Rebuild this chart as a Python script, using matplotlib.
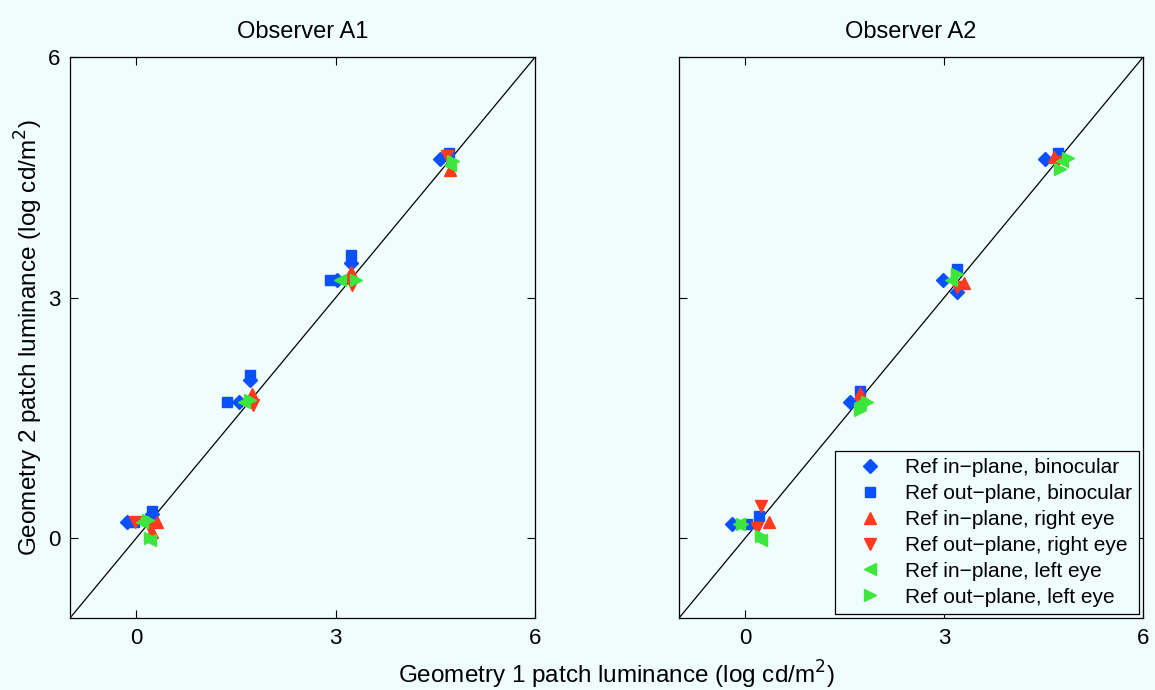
import numpy as np
import matplotlib
matplotlib.use('Agg')
import matplotlib.pyplot as plt

plt.rcParams['font.family'] = ['Liberation Sans', 'DejaVu Sans']

# series labels and marker styles (same order in both panels)
labels = ['Ref in\u2212plane, binocular', 'Ref out\u2212plane, binocular',
          'Ref in\u2212plane, right eye', 'Ref out\u2212plane, right eye',
          'Ref in\u2212plane, left eye', 'Ref out\u2212plane, left eye']
markers = ['D', 's', '^', 'v', '<', '>']
sizes = [7.5, 7, 8, 8, 8, 8]
colors = ['#0a50ff', '#0a50ff', '#ff3a1e', '#ff3a1e', '#3ce63c', '#3ce63c']

# Observer A1: geometry 1 (x) vs geometry 2 (y), log cd/m^2
a1_x = [
    [-0.14, 0.24, 1.54, 1.71, 3.02, 3.23, 4.57],
    [-0.04, 0.24, 1.37, 1.71, 2.92, 3.23, 4.70],
    [0.31, 0.24, 1.74, 3.23, 4.72],
    [-0.02, 0.20, 1.76, 3.25, 4.67],
    [0.08, 0.20, 1.62, 3.07, 4.72],
    [0.18, 0.21, 1.71, 3.30, 4.77],
]
a1_y = [
    [0.20, 0.30, 1.70, 1.97, 3.22, 3.43, 4.73],
    [0.20, 0.34, 1.70, 2.03, 3.22, 3.53, 4.80],
    [0.20, 0.08, 1.80, 3.32, 4.59],
    [0.20, 0.12, 1.66, 3.16, 4.77],
    [0.20, -0.03, 1.70, 3.22, 4.65],
    [0.22, 0.00, 1.72, 3.22, 4.71],
]

# Observer A2
a2_x = [
    [-0.20, 1.58, 2.98, 3.20, 4.52],
    [0.03, 0.20, 1.73, 3.20, 4.72],
    [0.35, 1.73, 3.30, 4.65],
    [0.23, 0.18, 1.76, 3.20, 4.70],
    [-0.10, 0.23, 1.73, 3.10, 4.78],
    [-0.05, 0.23, 1.84, 1.73, 3.20, 4.87, 4.75],
]
a2_y = [
    [0.18, 1.70, 3.22, 3.07, 4.73],
    [0.18, 0.27, 1.84, 3.36, 4.80],
    [0.20, 1.81, 3.18, 4.76],
    [0.40, 0.12, 1.66, 3.13, 4.69],
    [0.18, -0.03, 1.68, 3.22, 4.71],
    [0.18, 0.02, 1.70, 1.60, 3.30, 4.74, 4.61],
]

bg = '#effdfd'
fig = plt.figure(figsize=(11.55, 6.9), dpi=100, facecolor=bg)
ax1 = fig.add_axes([0.0606, 0.1043, 0.4026, 0.8127], facecolor=bg)
ax2 = fig.add_axes([0.5879, 0.1043, 0.4017, 0.8127], facecolor=bg)

for ax, xs, ys, title in [(ax1, a1_x, a1_y, 'Observer A1'),
                          (ax2, a2_x, a2_y, 'Observer A2')]:
    ax.plot([-1, 6], [-1, 6], color='black', lw=0.9, zorder=1)
    for i in range(6):
        ax.plot(xs[i], ys[i], linestyle='none', marker=markers[i], ms=sizes[i],
                color=colors[i], mec=colors[i], label=labels[i], zorder=2)
    ax.set_xlim(-1, 6)
    ax.set_ylim(-1, 6)
    ax.set_xticks([0, 3, 6])
    ax.set_yticks([0, 3, 6])
    ax.tick_params(direction='in', top=True, right=True, length=6,
                   labelsize=16, pad=7)
    for s in ax.spines.values():
        s.set_linewidth(0.9)
    ax.set_title(title, fontsize=17, pad=14)

ax2.set_yticklabels([])
ax1.set_ylabel('Geometry 2 patch luminance (log cd/m$^2$)', fontsize=17.5, labelpad=2)
fig.text(0.534, 0.022, 'Geometry 1 patch luminance (log cd/m$^2$)',
         ha='center', va='center', fontsize=17.5)

leg = ax2.legend(loc='lower right', fontsize=15, frameon=True, fancybox=False,
                 edgecolor='black', facecolor=bg, framealpha=1,
                 handletextpad=0.3, borderpad=0.35, labelspacing=0.33,
                 handlelength=2.7, borderaxespad=0.2)
leg.get_frame().set_linewidth(0.9)

fig.savefig('out.png', dpi=100, facecolor=bg)
